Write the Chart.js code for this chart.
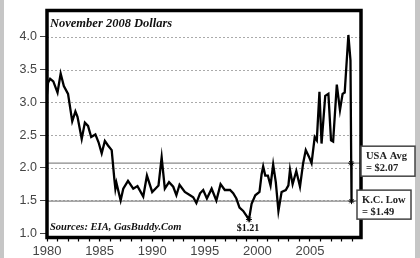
<!DOCTYPE html>
<html><head><meta charset="utf-8">
<script src="https://cdn.jsdelivr.net/npm/chart.js@4/dist/chart.umd.min.js"></script>
<style>
html,body{margin:0;padding:0;background:#fff;}
#wrap{position:relative;width:420px;height:258px;}
canvas{display:block;}
</style></head><body>
<div id="wrap"><canvas id="c" width="420" height="258"></canvas></div>
<script>
// ---- data ----
const years = [1980.0,1980.1,1980.3,1980.6,1981.0,1981.3,1981.6,1982.0,1982.4,1982.7,1982.9,1983.3,1983.6,1983.9,1984.2,1984.6,1984.9,1985.2,1985.5,1985.8,1986.15,1986.4,1986.5,1986.6,1987.0,1987.25,1987.7,1988.2,1988.6,1989.15,1989.5,1990.0,1990.6,1990.9,1991.2,1991.6,1992.0,1992.3,1992.6,1993.1,1993.6,1993.9,1994.2,1994.55,1994.85,1995.2,1995.65,1996.1,1996.5,1996.9,1997.4,1997.7,1998.0,1998.3,1998.65,1999.2,1999.45,1999.8,2000.2,2000.4,2000.55,2000.75,2001.0,2001.25,2001.5,2001.75,2002.0,2002.3,2002.7,2002.95,2003.1,2003.35,2003.7,2004.05,2004.35,2004.6,2004.9,2005.15,2005.45,2005.65,2005.9,2006.1,2006.45,2006.75,2007.0,2007.2,2007.55,2007.85,2008.1,2008.3,2008.65,2008.85,2008.92,2008.95];
const prices = [3.12,3.30,3.36,3.32,3.15,3.44,3.25,3.13,2.71,2.86,2.78,2.44,2.69,2.64,2.47,2.51,2.39,2.22,2.41,2.34,2.27,1.83,1.68,1.77,1.50,1.68,1.80,1.68,1.72,1.56,1.88,1.63,1.73,2.16,1.68,1.78,1.71,1.58,1.74,1.63,1.58,1.55,1.46,1.61,1.66,1.53,1.68,1.50,1.75,1.66,1.66,1.61,1.53,1.39,1.34,1.21,1.45,1.58,1.63,1.90,2.02,1.88,1.88,1.73,2.05,1.78,1.34,1.63,1.66,1.73,1.97,1.75,1.95,1.71,2.07,2.27,2.17,2.07,2.47,2.42,3.16,2.37,3.10,3.13,2.42,2.40,3.27,2.88,3.13,3.15,4.03,3.64,2.07,1.49];
const markerYears = [1999.2, 2008.92, 2008.95];
const markerValues = [1.21, 2.07, 1.49];
const refLines = [2.07, 1.49];
const gridValues = [1.5, 2.0, 2.5, 3.0, 3.5, 4.0];
const yTickLabels = ['1.0','1.5','2.0','2.5','3.0','3.5','4.0'];
const xTickLabels = [1980, 1985, 1990, 1995, 2000, 2005];
const titleText = 'November 2008 Dollars';
const sourceText = 'Sources: EIA, GasBuddy.Com';
const minLabel = '$1.21';
const boxLabels = [['USA Avg', '= $2.07'], ['K.C. Low', '= $1.49']];
const boxValues = [2.07, 1.49];

const SERIF = '"Liberation Serif","Times New Roman",serif';
const SANS = '"Liberation Sans",Arial,sans-serif';

const decor = {
  id: 'decor',
  beforeDraw(chart) {
    const ctx = chart.ctx;
    ctx.save();
    ctx.fillStyle = '#fff';
    ctx.fillRect(0, 0, chart.width, chart.height);
    ctx.fillStyle = '#c6c6c6';
    ctx.fillRect(0, 0, 4, chart.height);
    ctx.fillRect(415, 0, 5, chart.height);
    ctx.restore();
  },
  beforeDatasetsDraw(chart) {
    const ctx = chart.ctx, a = chart.chartArea, y = chart.scales.y;
    ctx.save();
    ctx.strokeStyle = '#aaa';
    ctx.lineWidth = 1;
    ctx.setLineDash([2, 2]);
    gridValues.forEach(v => {
      const py = Math.round(y.getPixelForValue(v)) + 0.5;
      ctx.beginPath(); ctx.moveTo(a.left, py); ctx.lineTo(a.right, py); ctx.stroke();
    });
    ctx.setLineDash([]);
    ctx.strokeStyle = '#888';
    ctx.lineWidth = 1.2;
    refLines.forEach(v => {
      const py = y.getPixelForValue(v);
      ctx.beginPath(); ctx.moveTo(a.left, py); ctx.lineTo(a.right, py); ctx.stroke();
    });
    ctx.restore();
  },
  afterDraw(chart) {
    const ctx = chart.ctx, a = chart.chartArea, x = chart.scales.x, y = chart.scales.y;
    ctx.save();
    // frame
    ctx.strokeStyle = '#000';
    ctx.lineWidth = 3.5;
    ctx.strokeRect(a.left, a.top, a.right - a.left, a.bottom - a.top);
    // texts
    ctx.fillStyle = '#111';
    ctx.textBaseline = 'alphabetic';
    ctx.textAlign = 'left';
    ctx.font = 'italic bold 12.5px ' + SERIF;
    ctx.fillText(titleText, a.left + 3, 27);
    ctx.font = 'italic bold 10.5px ' + SERIF;
    ctx.fillText(sourceText, a.left + 3, 230);
    ctx.textAlign = 'center';
    ctx.font = 'bold 10px ' + SERIF;
    ctx.fillText(minLabel, x.getPixelForValue(markerYears[0]) - 1, 231);
    // annotation boxes
    const boxes = [
      {left: 361, width: 54, dy: -17, h: 30},
      {left: 357, width: 54, dy: -11, h: 29}
    ];
    boxes.forEach((b, i) => {
      const py = y.getPixelForValue(boxValues[i]);
      const top = py + b.dy;
      ctx.fillStyle = '#fff';
      ctx.fillRect(b.left, top, b.width, b.h);
      ctx.strokeStyle = '#444';
      ctx.lineWidth = 1.5;
      ctx.strokeRect(b.left, top, b.width, b.h);
      ctx.fillStyle = '#222';
      ctx.textAlign = 'left';
      ctx.font = 'bold 10.5px ' + SERIF;
      ctx.fillText(boxLabels[i][0], b.left + 5, top + 13);
      ctx.fillText(boxLabels[i][1], b.left + 5, top + 25);
    });
    ctx.restore();
  }
};

new Chart(document.getElementById('c'), {
  type: 'line',
  data: {
    datasets: [
      {
        data: years.map((yr, i) => ({x: yr, y: prices[i]})),
        borderColor: '#000',
        borderWidth: 2.3,
        pointRadius: 0,
        tension: 0,
        fill: false
      },
      {
        data: markerYears.map((yr, i) => ({x: yr, y: markerValues[i]})),
        showLine: false,
        pointStyle: 'star',
        pointRadius: 3,
        borderColor: '#000',
        borderWidth: 1,
        backgroundColor: '#000'
      }
    ]
  },
  options: {
    responsive: false,
    devicePixelRatio: 1,
    animation: false,
    events: [],
    layout: {padding: {left: 0, right: 59, top: 1.5, bottom: 0}},
    plugins: {legend: {display: false}, tooltip: {enabled: false}},
    scales: {
      x: {
        type: 'linear',
        min: 1980,
        max: 2009.85,
        afterFit(s) { s.height = 20.5; },
        border: {display: false},
        grid: {drawOnChartArea: false, drawTicks: true, tickLength: 4, tickColor: '#000', tickWidth: 1.2},
        ticks: {
          stepSize: 1,
          autoSkip: false,
          includeBounds: false,
          maxRotation: 0,
          padding: 2,
          color: '#444',
          font: {family: SANS, size: 13},
          callback: v => xTickLabels.includes(v) ? String(v) : ''
        }
      },
      y: {
        type: 'linear',
        min: 0.934,
        max: 4.404,
        afterFit(s) { s.width = 47; },
        border: {display: false},
        grid: {drawOnChartArea: false, drawTicks: true, tickLength: 7, tickColor: '#444', tickWidth: 1},
        ticks: {
          stepSize: 0.5,
          includeBounds: false,
          padding: 3,
          color: '#444',
          font: {family: SANS, size: 12.5},
          callback: v => {
            const s = v.toFixed(1);
            return yTickLabels.includes(s) ? s : '';
          }
        }
      }
    }
  },
  plugins: [decor]
});
</script>
</body></html>
